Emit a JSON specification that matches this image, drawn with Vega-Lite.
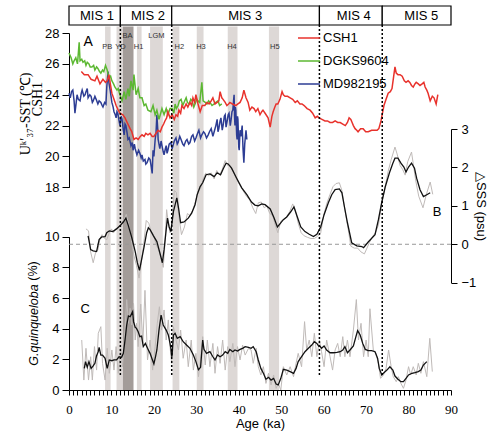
{
"$schema": "https://vega.github.io/schema/vega-lite/v6.json",
"width": 382, "height": 385,
"autosize": {"type": "none"},
"padding": {"left": 69, "top": 5, "right": 37, "bottom": 42},
"background": "white",
"config": {
 "view": {"stroke": null},
 "axis": {"grid": false, "domainColor": "#000", "tickColor": "#000", "labelColor": "#000", "titleColor": "#000", "labelFont": "Liberation Sans", "titleFont": "Liberation Sans", "titleFontWeight": "normal", "domainWidth": 1, "tickWidth": 1},
 "axisX": {"tickCount": 90, "labelExpr": "datum.value % 10 === 0 ? datum.label : ''", "labelOverlap": false, "labelFlush": false, "tickSize": 5, "labelPadding": 8, "labelFont": "Liberation Serif", "labelFontSize": 13, "titleFontSize": 13, "titleY": 33, "titleBaseline": "middle", "domain": true, "ticks": true},
 "text": {"font": "Liberation Sans"}
},
"datasets": {
 "bands": [
  {"name":"PB","start":8.5,"end":9.8,"tone":"light"},
  {"name":"YD","start":11.2,"end":12.7,"tone":"light"},
  {"name":"BA","start":12.7,"end":15.2,"tone":"dark"},
  {"name":"H1","start":16.0,"end":17.1,"tone":"light"},
  {"name":"LGM","start":19.1,"end":22.1,"tone":"light"},
  {"name":"H2","start":24.4,"end":26.0,"tone":"light"},
  {"name":"H3","start":30.1,"end":31.7,"tone":"light"},
  {"name":"H4","start":37.4,"end":39.7,"tone":"light"},
  {"name":"H5","start":47.1,"end":49.5,"tone":"light"}
 ],
 "bandlabels": [
  {"label":"PB","age":9.0,"row":"low"},
  {"label":"YD","age":12.1,"row":"low"},
  {"label":"BA","age":13.8,"row":"high"},
  {"label":"H1","age":16.4,"row":"low"},
  {"label":"LGM","age":20.6,"row":"high"},
  {"label":"H2","age":26.0,"row":"low"},
  {"label":"H3","age":31.1,"row":"low"},
  {"label":"H4","age":38.4,"row":"low"},
  {"label":"H5","age":48.5,"row":"low"}
 ],
 "mis": [
  {"stage":"MIS 1","start":0,"end":12.1,"labelAge":6.6},
  {"stage":"MIS 2","start":12.1,"end":24.2,"labelAge":18.6},
  {"stage":"MIS 3","start":24.2,"end":59.0,"labelAge":41.5},
  {"stage":"MIS 4","start":59.0,"end":73.8,"labelAge":67.1},
  {"stage":"MIS 5","start":73.8,"end":90,"labelAge":83.0}
 ],
 "bounds": [{"age":12.1},{"age":24.2},{"age":59.0},{"age":73.8}],
 "csh1": [
  {"age":2.9,"v":25.5},{"age":3.6,"v":25.3},{"age":4.5,"v":25.3},{"age":5.2,"v":25.0},{"age":6.1,"v":24.9},{"age":6.6,"v":25.2},{"age":7.3,"v":24.7},{"age":8.0,"v":25.0},{"age":8.6,"v":24.8},{"age":9.0,"v":24.9},{"age":9.4,"v":25.3},{"age":9.8,"v":24.6},{"age":10.1,"v":24.1},{"age":10.6,"v":23.7},{"age":11.1,"v":23.3},{"age":11.6,"v":23.0},{"age":12.0,"v":22.8},{"age":12.7,"v":22.7},{"age":13.2,"v":22.5},{"age":13.7,"v":22.2},{"age":14.4,"v":21.8},{"age":14.8,"v":21.6},{"age":15.3,"v":21.1},{"age":15.8,"v":21.2},{"age":16.3,"v":21.1},{"age":16.8,"v":21.3},{"age":17.2,"v":21.4},{"age":17.7,"v":21.3},{"age":18.1,"v":21.5},{"age":18.6,"v":21.4},{"age":19.1,"v":21.5},{"age":19.6,"v":21.3},{"age":20.0,"v":21.3},{"age":20.5,"v":21.5},{"age":21.0,"v":21.7},{"age":21.5,"v":21.6},{"age":21.9,"v":21.9},{"age":22.3,"v":22.1},{"age":22.6,"v":22.3},{"age":23.0,"v":22.5},{"age":23.3,"v":22.9},{"age":23.8,"v":22.5},{"age":24.3,"v":22.7},{"age":24.8,"v":22.4},{"age":25.2,"v":22.7},{"age":25.6,"v":22.6},{"age":25.9,"v":23.0},{"age":26.3,"v":22.8},{"age":26.6,"v":23.3},{"age":27.1,"v":23.1},{"age":27.6,"v":23.4},{"age":28.0,"v":23.2},{"age":28.5,"v":23.5},{"age":28.9,"v":23.3},{"age":29.2,"v":23.8},{"age":29.6,"v":23.5},{"age":29.9,"v":24.0},{"age":30.4,"v":23.4},{"age":30.9,"v":22.9},{"age":31.4,"v":23.3},{"age":32.0,"v":23.3},{"age":32.5,"v":23.5},{"age":33.0,"v":23.4},{"age":33.5,"v":23.6},{"age":33.9,"v":23.8},{"age":34.4,"v":23.4},{"age":34.9,"v":23.5},{"age":35.3,"v":23.6},{"age":35.6,"v":24.2},{"age":36.0,"v":23.8},{"age":36.3,"v":23.7},{"age":36.8,"v":23.5},{"age":37.2,"v":23.3},{"age":37.6,"v":23.4},{"age":37.9,"v":23.5},{"age":38.5,"v":23.4},{"age":39.3,"v":23.3},{"age":39.8,"v":23.4},{"age":40.3,"v":23.5},{"age":40.8,"v":23.8},{"age":41.2,"v":24.3},{"age":41.7,"v":23.8},{"age":42.2,"v":23.5},{"age":42.6,"v":23.0},{"age":43.1,"v":23.2},{"age":43.6,"v":23.1},{"age":44.0,"v":22.9},{"age":44.5,"v":23.1},{"age":45.0,"v":22.7},{"age":45.4,"v":22.9},{"age":45.7,"v":23.0},{"age":46.2,"v":22.8},{"age":46.9,"v":22.5},{"age":47.4,"v":21.9},{"age":47.8,"v":22.6},{"age":48.1,"v":22.9},{"age":48.5,"v":23.2},{"age":48.8,"v":23.4},{"age":49.2,"v":23.4},{"age":49.7,"v":23.7},{"age":50.2,"v":24.2},{"age":50.5,"v":24.0},{"age":50.9,"v":23.9},{"age":51.5,"v":23.9},{"age":52.1,"v":23.8},{"age":52.7,"v":23.7},{"age":53.3,"v":23.5},{"age":53.8,"v":23.6},{"age":54.4,"v":23.4},{"age":54.9,"v":23.4},{"age":55.4,"v":23.3},{"age":56.1,"v":23.1},{"age":56.8,"v":23.0},{"age":57.4,"v":22.8},{"age":58.0,"v":22.5},{"age":58.5,"v":22.6},{"age":58.9,"v":22.5},{"age":59.6,"v":22.4},{"age":60.3,"v":22.3},{"age":60.9,"v":22.3},{"age":61.5,"v":22.2},{"age":62.1,"v":22.2},{"age":62.7,"v":22.3},{"age":63.3,"v":22.2},{"age":63.9,"v":22.2},{"age":64.5,"v":22.1},{"age":65.1,"v":22.0},{"age":65.6,"v":22.2},{"age":66.0,"v":22.5},{"age":66.4,"v":22.4},{"age":66.7,"v":22.2},{"age":67.0,"v":22.0},{"age":67.4,"v":21.8},{"age":67.8,"v":21.7},{"age":68.1,"v":21.6},{"age":68.7,"v":21.8},{"age":69.3,"v":21.8},{"age":69.9,"v":21.6},{"age":70.5,"v":21.6},{"age":71.3,"v":21.7},{"age":72.1,"v":21.7},{"age":72.6,"v":21.7},{"age":73.0,"v":21.8},{"age":73.5,"v":22.3},{"age":74.2,"v":23.3},{"age":74.7,"v":23.7},{"age":75.2,"v":24.1},{"age":75.7,"v":24.2},{"age":76.1,"v":24.4},{"age":76.5,"v":25.2},{"age":76.8,"v":25.8},{"age":77.1,"v":25.4},{"age":77.5,"v":25.3},{"age":78.0,"v":25.3},{"age":78.5,"v":25.2},{"age":79.0,"v":24.9},{"age":79.4,"v":24.8},{"age":79.9,"v":24.9},{"age":80.3,"v":24.8},{"age":80.7,"v":24.6},{"age":81.1,"v":24.5},{"age":81.5,"v":24.7},{"age":81.8,"v":24.8},{"age":82.3,"v":24.7},{"age":82.7,"v":24.6},{"age":83.2,"v":24.7},{"age":83.6,"v":24.8},{"age":83.9,"v":24.5},{"age":84.3,"v":24.3},{"age":84.6,"v":24.1},{"age":85.1,"v":23.6},{"age":85.6,"v":23.9},{"age":86.0,"v":23.8},{"age":86.5,"v":23.4},{"age":86.9,"v":24.0}
 ],
 "dgks": [
  {"age":0.0,"v":26.7},{"age":0.5,"v":26.4},{"age":0.9,"v":26.0},{"age":1.2,"v":26.2},{"age":1.6,"v":26.4},{"age":2.0,"v":26.0},{"age":2.4,"v":27.4},{"age":2.6,"v":26.2},{"age":3.0,"v":26.3},{"age":3.3,"v":26.1},{"age":3.7,"v":26.2},{"age":4.0,"v":25.9},{"age":4.3,"v":26.1},{"age":4.7,"v":26.0},{"age":5.0,"v":25.8},{"age":5.4,"v":25.8},{"age":5.8,"v":25.9},{"age":6.1,"v":25.6},{"age":6.5,"v":25.8},{"age":6.8,"v":25.7},{"age":7.2,"v":25.5},{"age":7.5,"v":25.4},{"age":7.9,"v":25.6},{"age":8.2,"v":25.5},{"age":8.6,"v":25.9},{"age":9.0,"v":25.6},{"age":9.4,"v":25.1},{"age":9.8,"v":25.2},{"age":10.1,"v":24.9},{"age":10.5,"v":24.7},{"age":10.8,"v":24.5},{"age":11.3,"v":24.3},{"age":11.6,"v":24.4},{"age":12.0,"v":24.0},{"age":12.5,"v":23.6},{"age":13.0,"v":24.2},{"age":13.4,"v":23.7},{"age":13.9,"v":24.4},{"age":14.2,"v":23.9},{"age":14.6,"v":24.9},{"age":15.1,"v":24.3},{"age":15.3,"v":25.3},{"age":15.8,"v":24.0},{"age":16.3,"v":24.4},{"age":16.7,"v":23.8},{"age":17.2,"v":23.8},{"age":17.7,"v":23.3},{"age":18.1,"v":23.4},{"age":18.6,"v":23.0},{"age":19.3,"v":22.9},{"age":19.8,"v":23.3},{"age":20.3,"v":22.7},{"age":20.7,"v":23.0},{"age":21.2,"v":22.4},{"age":21.6,"v":22.8},{"age":21.9,"v":23.1},{"age":22.4,"v":22.7},{"age":22.9,"v":23.1},{"age":23.3,"v":22.7},{"age":23.8,"v":23.1},{"age":24.3,"v":23.1},{"age":24.7,"v":22.8},{"age":25.0,"v":23.4},{"age":25.3,"v":23.1},{"age":25.7,"v":23.3},{"age":26.0,"v":23.6},{"age":26.4,"v":23.7},{"age":26.8,"v":23.3},{"age":27.1,"v":23.5},{"age":27.6,"v":23.8},{"age":27.9,"v":23.5},{"age":28.3,"v":23.4},{"age":28.7,"v":23.7},{"age":29.0,"v":23.6},{"age":29.4,"v":23.2},{"age":29.7,"v":23.4},{"age":30.1,"v":23.7},{"age":30.4,"v":23.6},{"age":30.8,"v":23.5},{"age":31.3,"v":24.8},{"age":31.6,"v":23.6},{"age":32.1,"v":23.5},{"age":32.5,"v":23.4},{"age":32.9,"v":23.6},{"age":33.2,"v":23.5},{"age":33.7,"v":23.3},{"age":34.2,"v":23.4},{"age":34.6,"v":23.5},{"age":35.1,"v":23.6},{"age":35.5,"v":23.3},{"age":36.0,"v":23.4}
 ],
 "md": [
  {"age":0.0,"v":24.1},{"age":0.3,"v":23.8},{"age":0.6,"v":24.2},{"age":0.9,"v":24.3},{"age":1.2,"v":23.6},{"age":1.4,"v":22.8},{"age":1.7,"v":23.5},{"age":1.9,"v":24.0},{"age":2.2,"v":23.7},{"age":2.6,"v":23.6},{"age":2.9,"v":24.1},{"age":3.1,"v":24.3},{"age":3.5,"v":23.9},{"age":3.8,"v":24.0},{"age":4.0,"v":24.2},{"age":4.3,"v":24.4},{"age":4.5,"v":23.8},{"age":4.9,"v":24.0},{"age":5.2,"v":23.9},{"age":5.5,"v":23.5},{"age":5.7,"v":23.6},{"age":6.1,"v":23.9},{"age":6.4,"v":23.7},{"age":6.8,"v":23.4},{"age":7.1,"v":23.6},{"age":7.5,"v":23.5},{"age":7.8,"v":23.3},{"age":8.0,"v":23.2},{"age":8.4,"v":23.5},{"age":8.7,"v":23.4},{"age":8.9,"v":24.5},{"age":9.2,"v":25.5},{"age":9.4,"v":24.8},{"age":9.7,"v":24.3},{"age":10.1,"v":23.5},{"age":10.4,"v":23.2},{"age":10.6,"v":22.9},{"age":10.9,"v":22.7},{"age":11.1,"v":22.5},{"age":11.3,"v":22.9},{"age":11.5,"v":22.8},{"age":11.8,"v":22.3},{"age":12.0,"v":22.0},{"age":12.3,"v":22.6},{"age":12.5,"v":22.4},{"age":12.8,"v":21.7},{"age":13.0,"v":21.4},{"age":13.2,"v":22.1},{"age":13.4,"v":22.0},{"age":13.7,"v":21.5},{"age":13.9,"v":21.1},{"age":14.2,"v":21.2},{"age":14.6,"v":20.7},{"age":14.9,"v":20.9},{"age":15.1,"v":20.4},{"age":15.4,"v":20.8},{"age":15.6,"v":20.5},{"age":15.8,"v":20.3},{"age":16.0,"v":20.1},{"age":16.4,"v":20.4},{"age":16.7,"v":20.2},{"age":17.0,"v":19.9},{"age":17.2,"v":20.1},{"age":17.5,"v":19.7},{"age":17.9,"v":19.8},{"age":18.1,"v":19.5},{"age":18.4,"v":19.6},{"age":18.8,"v":19.9},{"age":19.1,"v":19.8},{"age":19.4,"v":19.3},{"age":19.6,"v":18.9},{"age":19.8,"v":20.4},{"age":20.0,"v":20.0},{"age":20.3,"v":21.1},{"age":20.5,"v":21.5},{"age":20.7,"v":22.7},{"age":20.9,"v":21.8},{"age":21.0,"v":21.1},{"age":21.2,"v":20.8},{"age":21.4,"v":20.5},{"age":21.7,"v":21.0},{"age":21.9,"v":20.7},{"age":22.2,"v":20.3},{"age":22.4,"v":20.1},{"age":22.7,"v":20.5},{"age":22.9,"v":20.7},{"age":23.1,"v":20.2},{"age":23.3,"v":20.4},{"age":23.6,"v":20.8},{"age":24.0,"v":20.9},{"age":24.3,"v":20.5},{"age":24.5,"v":20.7},{"age":24.8,"v":21.0},{"age":25.2,"v":21.2},{"age":25.5,"v":20.8},{"age":25.7,"v":20.9},{"age":26.1,"v":21.3},{"age":26.4,"v":21.1},{"age":26.8,"v":20.8},{"age":27.1,"v":20.7},{"age":27.5,"v":21.0},{"age":27.8,"v":21.1},{"age":28.2,"v":20.8},{"age":28.5,"v":20.9},{"age":28.9,"v":21.3},{"age":29.2,"v":21.4},{"age":29.6,"v":21.0},{"age":29.9,"v":21.2},{"age":30.3,"v":21.5},{"age":30.6,"v":21.7},{"age":31.0,"v":21.2},{"age":31.3,"v":21.4},{"age":31.7,"v":21.6},{"age":32.0,"v":21.5},{"age":32.4,"v":21.2},{"age":32.8,"v":21.4},{"age":33.1,"v":21.6},{"age":33.5,"v":21.8},{"age":33.9,"v":21.3},{"age":34.2,"v":21.6},{"age":34.6,"v":22.0},{"age":34.9,"v":22.4},{"age":35.1,"v":21.6},{"age":35.3,"v":21.8},{"age":35.6,"v":22.3},{"age":35.8,"v":22.5},{"age":36.1,"v":21.7},{"age":36.3,"v":22.0},{"age":36.6,"v":22.6},{"age":36.8,"v":22.7},{"age":37.0,"v":21.9},{"age":37.2,"v":22.2},{"age":37.5,"v":22.7},{"age":37.7,"v":22.8},{"age":38.0,"v":22.0},{"age":38.2,"v":22.4},{"age":38.4,"v":22.9},{"age":38.6,"v":23.0},{"age":38.8,"v":23.7},{"age":38.9,"v":24.0},{"age":39.0,"v":22.6},{"age":39.1,"v":22.0},{"age":39.2,"v":23.2},{"age":39.3,"v":23.0},{"age":39.5,"v":21.4},{"age":39.6,"v":21.1},{"age":39.7,"v":22.6},{"age":39.8,"v":22.4},{"age":40.0,"v":20.6},{"age":40.1,"v":20.4},{"age":40.3,"v":21.7},{"age":40.5,"v":21.3},{"age":40.8,"v":22.0},{"age":41.0,"v":20.5},{"age":41.2,"v":19.6},{"age":41.4,"v":20.8},{"age":41.7,"v":21.7},{"age":41.9,"v":21.1}
 ],
 "sssraw": [
  {"age":4.0,"v":0.40},{"age":4.6,"v":0.35},{"age":5.1,"v":-0.2},{"age":5.7,"v":-0.48},{"age":6.3,"v":-0.2},{"age":6.8,"v":-0.15},{"age":7.3,"v":0.15},{"age":7.8,"v":0.25},{"age":8.4,"v":0.15},{"age":8.9,"v":0.12},{"age":9.5,"v":0.30},{"age":10.0,"v":0.40},{"age":10.5,"v":0.30},{"age":11.2,"v":0.42},{"age":11.8,"v":0.45},{"age":12.4,"v":0.55},{"age":13.0,"v":0.65},{"age":13.5,"v":0.78},{"age":14.1,"v":0.50},{"age":14.7,"v":0.10},{"age":15.3,"v":-0.30},{"age":15.9,"v":-0.55},{"age":16.5,"v":-0.88},{"age":17.0,"v":-0.50},{"age":17.6,"v":0.0},{"age":18.2,"v":0.62},{"age":18.8,"v":0.55},{"age":19.3,"v":0.35},{"age":19.9,"v":0.25},{"age":20.5,"v":0.0},{"age":21.1,"v":-0.15},{"age":21.7,"v":-0.35},{"age":22.2,"v":-0.60},{"age":22.6,"v":0.0},{"age":23.0,"v":0.90},{"age":23.4,"v":0.55},{"age":23.8,"v":0.30},{"age":24.3,"v":0.55},{"age":24.8,"v":1.40},{"age":25.3,"v":1.35},{"age":25.8,"v":0.80},{"age":26.5,"v":0.25},{"age":27.2,"v":0.45},{"age":27.9,"v":0.80},{"age":28.5,"v":0.75},{"age":29.2,"v":0.90},{"age":29.9,"v":1.15},{"age":30.4,"v":1.38},{"age":31.0,"v":1.45},{"age":31.6,"v":1.70},{"age":32.2,"v":1.85},{"age":32.9,"v":1.78},{"age":33.5,"v":1.86},{"age":34.2,"v":1.70},{"age":34.8,"v":1.92},{"age":35.5,"v":1.80},{"age":36.1,"v":1.95},{"age":36.8,"v":2.18},{"age":37.4,"v":2.05},{"age":38.0,"v":2.05},{"age":38.7,"v":1.90},{"age":39.4,"v":1.70},{"age":40.2,"v":1.55},{"age":41.0,"v":1.40},{"age":41.8,"v":1.25},{"age":42.6,"v":1.15},{"age":43.3,"v":0.95},{"age":44.0,"v":0.80},{"age":44.6,"v":1.08},{"age":45.3,"v":1.10},{"age":46.0,"v":0.95},{"age":46.6,"v":1.00},{"age":47.3,"v":0.80},{"age":48.0,"v":0.75},{"age":48.6,"v":0.50},{"age":49.2,"v":0.30},{"age":49.9,"v":0.60},{"age":50.6,"v":0.65},{"age":51.3,"v":0.72},{"age":52.0,"v":0.85},{"age":52.7,"v":1.05},{"age":53.3,"v":0.90},{"age":54.0,"v":0.55},{"age":54.7,"v":0.30},{"age":55.4,"v":0.22},{"age":56.2,"v":0.18},{"age":57.0,"v":0.15},{"age":57.8,"v":0.15},{"age":58.5,"v":0.20},{"age":59.3,"v":0.30},{"age":60.0,"v":0.75},{"age":60.7,"v":1.05},{"age":61.5,"v":1.30},{"age":62.2,"v":1.50},{"age":62.9,"v":1.58},{"age":63.7,"v":1.60},{"age":64.3,"v":1.40},{"age":65.0,"v":0.90},{"age":65.7,"v":0.45},{"age":66.4,"v":-0.05},{"age":67.2,"v":-0.10},{"age":68.0,"v":-0.10},{"age":68.8,"v":-0.20},{"age":69.6,"v":-0.25},{"age":70.2,"v":-0.10},{"age":70.8,"v":0.05},{"age":71.5,"v":0.20},{"age":72.2,"v":0.30},{"age":72.9,"v":0.50},{"age":73.6,"v":1.00},{"age":74.4,"v":1.45},{"age":75.2,"v":1.90},{"age":75.9,"v":2.20},{"age":76.8,"v":2.53},{"age":77.3,"v":2.35},{"age":78.0,"v":2.05},{"age":78.6,"v":1.95},{"age":79.2,"v":1.80},{"age":79.8,"v":2.15},{"age":80.7,"v":2.40},{"age":81.1,"v":2.10},{"age":81.7,"v":1.65},{"age":82.4,"v":1.25},{"age":83.4,"v":0.95},{"age":84.2,"v":1.30},{"age":85.1,"v":1.62},{"age":85.7,"v":1.30}
 ],
 "ssssmooth": [
  {"age":4.5,"v":0.22},{"age":5.1,"v":-0.14},{"age":5.7,"v":-0.17},{"age":6.5,"v":-0.19},{"age":7.1,"v":0.12},{"age":7.7,"v":0.19},{"age":8.5,"v":0.20},{"age":8.9,"v":0.30},{"age":9.5,"v":0.35},{"age":10.3,"v":0.33},{"age":11.2,"v":0.40},{"age":12.0,"v":0.48},{"age":12.8,"v":0.58},{"age":13.4,"v":0.68},{"age":14.0,"v":0.48},{"age":14.8,"v":0.17},{"age":15.6,"v":-0.19},{"age":16.1,"v":-0.48},{"age":16.6,"v":-0.68},{"age":17.1,"v":-0.40},{"age":17.7,"v":-0.06},{"age":18.3,"v":0.30},{"age":18.7,"v":0.43},{"age":19.1,"v":0.38},{"age":19.9,"v":0.22},{"age":20.7,"v":0.07},{"age":21.4,"v":-0.22},{"age":22.0,"v":-0.48},{"age":22.4,"v":-0.14},{"age":22.9,"v":0.38},{"age":23.2,"v":0.68},{"age":23.6,"v":0.45},{"age":24.0,"v":0.33},{"age":24.6,"v":0.85},{"age":25.4,"v":1.21},{"age":25.8,"v":0.95},{"age":26.3,"v":0.56},{"age":27.1,"v":0.58},{"age":28.1,"v":0.68},{"age":28.9,"v":0.81},{"age":29.7,"v":1.03},{"age":30.2,"v":1.29},{"age":30.9,"v":1.5},{"age":31.5,"v":1.6},{"age":32.3,"v":1.81},{"age":33.2,"v":1.83},{"age":34.2,"v":1.76},{"age":34.9,"v":1.86},{"age":35.7,"v":1.81},{"age":36.4,"v":1.98},{"age":37.0,"v":2.11},{"age":37.5,"v":2.09},{"age":38.3,"v":1.98},{"age":39.5,"v":1.72},{"age":40.7,"v":1.47},{"age":41.9,"v":1.29},{"age":43.0,"v":1.1},{"age":43.8,"v":1.02},{"age":44.6,"v":1.0},{"age":45.4,"v":1.05},{"age":46.2,"v":1.03},{"age":47.4,"v":0.92},{"age":48.3,"v":0.69},{"age":49.1,"v":0.45},{"age":49.7,"v":0.53},{"age":50.5,"v":0.64},{"age":51.3,"v":0.71},{"age":52.2,"v":0.84},{"age":53.0,"v":0.97},{"age":53.8,"v":0.71},{"age":54.6,"v":0.45},{"age":55.6,"v":0.33},{"age":56.6,"v":0.26},{"age":57.6,"v":0.2},{"age":58.4,"v":0.26},{"age":59.3,"v":0.45},{"age":60.1,"v":0.77},{"age":61.1,"v":1.08},{"age":61.9,"v":1.29},{"age":62.7,"v":1.42},{"age":63.7,"v":1.44},{"age":64.3,"v":1.34},{"age":64.9,"v":0.97},{"age":65.6,"v":0.56},{"age":66.6,"v":0.04},{"age":67.8,"v":-0.04},{"age":69.0,"v":-0.06},{"age":69.4,"v":-0.09},{"age":70.5,"v":0.06},{"age":72.1,"v":0.25},{"age":72.9,"v":0.64},{"age":73.7,"v":1.1},{"age":74.5,"v":1.49},{"age":75.5,"v":1.86},{"age":76.3,"v":2.11},{"age":76.8,"v":2.24},{"age":77.5,"v":2.24},{"age":78.2,"v":2.11},{"age":78.9,"v":2.01},{"age":79.4,"v":1.88},{"age":80.0,"v":2.01},{"age":80.7,"v":2.11},{"age":81.4,"v":1.98},{"age":81.9,"v":1.72},{"age":82.7,"v":1.42},{"age":83.5,"v":1.24},{"age":84.3,"v":1.29},{"age":85.1,"v":1.34}
 ],
 "gqraw": [
  {"age":3.0,"v":3.26},{"age":3.5,"v":0.65},{"age":4.0,"v":2.72},{"age":4.6,"v":0.65},{"age":5.1,"v":2.17},{"age":5.5,"v":0.65},{"age":6.0,"v":2.83},{"age":6.5,"v":1.30},{"age":6.9,"v":3.7},{"age":7.5,"v":4.13},{"age":7.9,"v":1.74},{"age":8.5,"v":0.65},{"age":9.0,"v":2.72},{"age":9.5,"v":1.09},{"age":10.1,"v":2.61},{"age":10.6,"v":1.30},{"age":11.1,"v":2.83},{"age":11.6,"v":1.09},{"age":12.2,"v":2.72},{"age":12.6,"v":1.52},{"age":13.2,"v":3.91},{"age":13.6,"v":5.9},{"age":14.0,"v":4.35},{"age":14.4,"v":5.33},{"age":14.8,"v":4.24},{"age":15.2,"v":5.65},{"age":15.6,"v":3.26},{"age":15.9,"v":4.35},{"age":16.3,"v":2.83},{"age":16.9,"v":5.6},{"age":17.4,"v":3.04},{"age":17.9,"v":6.5},{"age":18.5,"v":1.96},{"age":19.1,"v":3.26},{"age":19.7,"v":1.30},{"age":20.3,"v":2.83},{"age":20.8,"v":4.35},{"age":21.3,"v":5.43},{"age":21.8,"v":3.91},{"age":22.4,"v":5.22},{"age":22.9,"v":3.26},{"age":23.4,"v":4.57},{"age":23.8,"v":2.83},{"age":24.2,"v":1.74},{"age":24.6,"v":4.13},{"age":25.2,"v":3.26},{"age":25.8,"v":2.61},{"age":26.3,"v":3.91},{"age":26.9,"v":2.07},{"age":27.6,"v":3.26},{"age":28.1,"v":1.52},{"age":28.8,"v":3.26},{"age":29.3,"v":1.30},{"age":29.9,"v":2.39},{"age":30.5,"v":0.87},{"age":31.0,"v":1.96},{"age":31.5,"v":3.48},{"age":32.1,"v":1.63},{"age":32.6,"v":3.26},{"age":33.2,"v":1.52},{"age":33.9,"v":3.04},{"age":34.4,"v":1.09},{"age":35.0,"v":2.83},{"age":35.6,"v":1.74},{"age":36.2,"v":3.26},{"age":36.8,"v":1.30},{"age":37.4,"v":2.83},{"age":37.9,"v":1.85},{"age":38.6,"v":3.04},{"age":39.1,"v":1.52},{"age":39.7,"v":2.83},{"age":40.3,"v":1.96},{"age":40.9,"v":2.93},{"age":41.5,"v":2.28},{"age":42.3,"v":2.72},{"age":42.9,"v":2.61},{"age":43.4,"v":1.74},{"age":44.1,"v":2.72},{"age":44.6,"v":1.52},{"age":45.2,"v":0.98},{"age":45.8,"v":1.52},{"age":46.4,"v":0.43},{"age":47.0,"v":1.09},{"age":47.6,"v":0.33},{"age":48.2,"v":0.98},{"age":48.8,"v":0.11},{"age":49.3,"v":0.43},{"age":49.9,"v":0.0},{"age":50.5,"v":1.52},{"age":51.3,"v":0.98},{"age":52.1,"v":1.52},{"age":52.9,"v":0.87},{"age":53.5,"v":1.74},{"age":54.0,"v":2.39},{"age":54.8,"v":1.52},{"age":55.5,"v":4.46},{"age":56.0,"v":2.61},{"age":56.6,"v":3.26},{"age":57.2,"v":2.17},{"age":57.8,"v":3.70},{"age":58.4,"v":2.17},{"age":59.0,"v":3.26},{"age":59.5,"v":2.5},{"age":60.1,"v":1.52},{"age":60.7,"v":3.26},{"age":61.5,"v":2.17},{"age":62.1,"v":1.30},{"age":62.7,"v":2.61},{"age":63.3,"v":3.04},{"age":63.9,"v":2.17},{"age":64.5,"v":3.48},{"age":65.0,"v":2.17},{"age":65.6,"v":3.26},{"age":66.2,"v":2.17},{"age":67.0,"v":3.91},{"age":67.7,"v":5.9},{"age":68.2,"v":3.26},{"age":68.8,"v":4.35},{"age":69.4,"v":2.17},{"age":70.0,"v":3.26},{"age":70.5,"v":2.17},{"age":70.9,"v":5.3},{"age":71.7,"v":2.61},{"age":72.3,"v":2.39},{"age":72.9,"v":1.74},{"age":73.4,"v":0.76},{"age":74.1,"v":0.98},{"age":74.7,"v":1.41},{"age":75.3,"v":2.61},{"age":75.9,"v":1.52},{"age":76.4,"v":0.87},{"age":77.1,"v":0.54},{"age":77.6,"v":0.87},{"age":78.2,"v":0.43},{"age":78.8,"v":0.11},{"age":79.4,"v":0.65},{"age":80.0,"v":1.52},{"age":80.5,"v":0.98},{"age":81.1,"v":1.52},{"age":81.8,"v":0.98},{"age":82.3,"v":1.74},{"age":82.9,"v":1.09},{"age":83.5,"v":1.85},{"age":84.3,"v":0.87},{"age":85.0,"v":3.37},{"age":85.6,"v":1.2}
 ],
 "gqsmooth": [
  {"age":3.6,"v":1.41},{"age":3.9,"v":1.85},{"age":4.3,"v":1.48},{"age":4.7,"v":1.85},{"age":5.2,"v":1.41},{"age":5.7,"v":1.57},{"age":6.1,"v":1.74},{"age":6.5,"v":2.24},{"age":6.9,"v":2.5},{"age":7.1,"v":2.78},{"age":7.5,"v":2.28},{"age":7.9,"v":2.28},{"age":8.5,"v":2.07},{"age":9.0,"v":1.41},{"age":9.5,"v":1.96},{"age":10.1,"v":1.91},{"age":10.6,"v":1.96},{"age":11.2,"v":1.96},{"age":11.8,"v":2.17},{"age":12.4,"v":2.13},{"age":12.8,"v":2.39},{"age":13.2,"v":3.26},{"age":13.6,"v":4.24},{"age":14.0,"v":4.83},{"age":14.4,"v":4.78},{"age":14.8,"v":5.0},{"age":15.0,"v":5.11},{"age":15.2,"v":4.46},{"age":15.6,"v":4.09},{"age":15.9,"v":4.02},{"age":16.3,"v":3.8},{"age":16.7,"v":3.48},{"age":17.1,"v":3.52},{"age":17.5,"v":2.83},{"age":18.0,"v":3.04},{"age":18.5,"v":2.72},{"age":19.1,"v":2.39},{"age":19.6,"v":2.0},{"age":20.0,"v":1.7},{"age":20.4,"v":2.2},{"age":20.7,"v":2.61},{"age":21.2,"v":3.91},{"age":21.7,"v":4.89},{"age":22.2,"v":4.24},{"age":22.9,"v":3.91},{"age":23.4,"v":3.59},{"age":23.8,"v":3.04},{"age":24.0,"v":2.72},{"age":24.2,"v":2.17},{"age":24.3,"v":2.28},{"age":24.6,"v":3.59},{"age":25.0,"v":3.70},{"age":25.5,"v":3.37},{"age":26.2,"v":3.48},{"age":26.9,"v":3.15},{"age":27.7,"v":2.93},{"age":28.5,"v":2.72},{"age":29.3,"v":2.28},{"age":29.9,"v":1.85},{"age":30.5,"v":1.32},{"age":31.0,"v":1.48},{"age":31.5,"v":3.26},{"age":31.8,"v":2.65},{"age":32.4,"v":2.39},{"age":33.2,"v":2.5},{"age":33.9,"v":2.17},{"age":34.4,"v":1.96},{"age":35.0,"v":2.28},{"age":35.6,"v":2.17},{"age":36.2,"v":2.28},{"age":36.8,"v":2.5},{"age":37.4,"v":2.39},{"age":37.9,"v":2.65},{"age":38.6,"v":2.5},{"age":39.1,"v":2.61},{"age":39.7,"v":2.54},{"age":40.3,"v":2.65},{"age":40.9,"v":2.72},{"age":41.5,"v":2.83},{"age":42.3,"v":2.78},{"age":42.9,"v":2.72},{"age":43.4,"v":2.83},{"age":44.1,"v":2.5},{"age":44.6,"v":1.96},{"age":45.2,"v":1.41},{"age":45.8,"v":1.09},{"age":46.4,"v":0.70},{"age":47.0,"v":0.83},{"age":47.6,"v":0.65},{"age":48.2,"v":0.76},{"age":48.8,"v":0.39},{"age":49.3,"v":0.33},{"age":49.9,"v":0.76},{"age":50.5,"v":1.35},{"age":51.3,"v":1.30},{"age":52.1,"v":1.20},{"age":52.9,"v":1.09},{"age":53.5,"v":1.41},{"age":54.0,"v":1.85},{"age":54.8,"v":2.17},{"age":55.6,"v":2.5},{"age":56.4,"v":2.72},{"age":57.2,"v":2.93},{"age":57.8,"v":3.15},{"age":58.4,"v":3.04},{"age":58.8,"v":2.87},{"age":59.2,"v":2.83},{"age":59.5,"v":2.72},{"age":60.1,"v":2.87},{"age":60.7,"v":2.61},{"age":61.5,"v":2.43},{"age":62.3,"v":2.43},{"age":63.1,"v":2.46},{"age":63.9,"v":2.5},{"age":64.5,"v":2.61},{"age":65.0,"v":2.83},{"age":65.6,"v":2.43},{"age":66.2,"v":2.61},{"age":67.0,"v":2.87},{"age":67.6,"v":3.48},{"age":68.0,"v":3.87},{"age":68.6,"v":3.59},{"age":69.2,"v":3.04},{"age":69.8,"v":2.65},{"age":70.5,"v":2.57},{"age":71.3,"v":2.57},{"age":72.1,"v":2.5},{"age":72.7,"v":2.07},{"age":73.1,"v":1.41},{"age":73.7,"v":0.98},{"age":74.2,"v":1.13},{"age":74.9,"v":1.30},{"age":75.6,"v":1.52},{"age":76.3,"v":1.30},{"age":76.8,"v":0.91},{"age":77.5,"v":0.70},{"age":78.2,"v":0.54},{"age":78.8,"v":0.54},{"age":79.4,"v":0.76},{"age":80.0,"v":0.98},{"age":80.8,"v":1.09},{"age":81.5,"v":1.13},{"age":82.3,"v":1.20},{"age":82.9,"v":1.30},{"age":83.5,"v":1.63},{"age":84.3,"v":1.85}
 ]
},
"layer": [
 {
  "layer": [
   {"data": {"name": "bands"}, "transform": [{"filter": "datum.tone === 'light'"}],
    "mark": {"type": "rect", "color": "#ddd8d6"},
    "encoding": {"x": {"field": "start", "type": "quantitative", "scale": {"domain": [0, 90], "nice": false, "zero": false}, "axis": {"title": "Age (ka)"}}, "x2": {"field": "end"},
     "y": {"datum": 28.42, "type": "quantitative", "scale": {"domain": [18, 28], "range": [182.3, 28], "nice": false, "zero": false}}, "y2": {"datum": 4.86}}},
   {"data": {"name": "bands"}, "transform": [{"filter": "datum.tone === 'dark'"}],
    "mark": {"type": "rect", "color": "#a39c99"},
    "encoding": {"x": {"field": "start", "type": "quantitative", "scale": {"domain": [0, 90], "nice": false, "zero": false}, "axis": {"title": "Age (ka)"}}, "x2": {"field": "end"},
     "y": {"datum": 28.42, "type": "quantitative", "scale": {"domain": [18, 28], "range": [182.3, 28], "nice": false, "zero": false}}, "y2": {"datum": 4.86}}},
   {"data": {"name": "mis"},
    "mark": {"type": "rect", "fill": "white", "stroke": "black", "strokeWidth": 1.2},
    "encoding": {"x": {"field": "start", "type": "quantitative", "scale": {"domain": [0, 90], "nice": false, "zero": false}, "axis": {"title": "Age (ka)"}}, "x2": {"field": "end"},
     "y": {"datum": 29.75, "type": "quantitative", "scale": {"domain": [18, 28], "range": [182.3, 28], "nice": false, "zero": false}}, "y2": {"datum": 28.52}}},
   {"data": {"name": "mis"},
    "mark": {"type": "text", "fontSize": 13, "align": "center", "baseline": "middle", "color": "black"},
    "encoding": {"x": {"field": "labelAge", "type": "quantitative", "scale": {"domain": [0, 90], "nice": false, "zero": false}, "axis": {"title": "Age (ka)"}},
     "y": {"datum": 29.13, "type": "quantitative", "scale": {"domain": [18, 28], "range": [182.3, 28], "nice": false, "zero": false}}, "text": {"field": "stage"}}},
   {"data": {"name": "bandlabels"}, "transform": [{"filter": "datum.row === 'low'"}],
    "mark": {"type": "text", "fontSize": 7.5, "align": "center", "baseline": "middle", "color": "#333"},
    "encoding": {"x": {"field": "age", "type": "quantitative", "scale": {"domain": [0, 90], "nice": false, "zero": false}, "axis": {"title": "Age (ka)"}},
     "y": {"datum": 27.09, "type": "quantitative", "scale": {"domain": [18, 28], "range": [182.3, 28], "nice": false, "zero": false}}, "text": {"field": "label"}}},
   {"data": {"name": "bandlabels"}, "transform": [{"filter": "datum.row === 'high'"}],
    "mark": {"type": "text", "fontSize": 7.5, "align": "center", "baseline": "middle", "color": "#333"},
    "encoding": {"x": {"field": "age", "type": "quantitative", "scale": {"domain": [0, 90], "nice": false, "zero": false}, "axis": {"title": "Age (ka)"}},
     "y": {"datum": 27.81, "type": "quantitative", "scale": {"domain": [18, 28], "range": [182.3, 28], "nice": false, "zero": false}}, "text": {"field": "label"}}},
   {"data": {"name": "md"},
    "mark": {"type": "line", "strokeWidth": 1.5},
    "encoding": {"x": {"field": "age", "type": "quantitative", "scale": {"domain": [0, 90], "nice": false, "zero": false}, "axis": {"title": "Age (ka)"}},
     "y": {"field": "v", "type": "quantitative", "scale": {"domain": [18, 28], "range": [182.3, 28], "nice": false, "zero": false}},
     "color": {"datum": "MD982195", "scale": {"domain": ["CSH1", "DGKS9604", "MD982195"], "range": ["#e8322c", "#5cb832", "#2d3d94"]}}}},
   {"data": {"name": "dgks"},
    "mark": {"type": "line", "strokeWidth": 1.5},
    "encoding": {"x": {"field": "age", "type": "quantitative", "scale": {"domain": [0, 90], "nice": false, "zero": false}, "axis": {"title": "Age (ka)"}},
     "y": {"field": "v", "type": "quantitative", "scale": {"domain": [18, 28], "range": [182.3, 28], "nice": false, "zero": false}},
     "color": {"datum": "DGKS9604", "scale": {"domain": ["CSH1", "DGKS9604", "MD982195"], "range": ["#e8322c", "#5cb832", "#2d3d94"]}}}},
   {"data": {"name": "csh1"},
    "mark": {"type": "line", "strokeWidth": 1.5},
    "encoding": {
     "x": {"field": "age", "type": "quantitative", "scale": {"domain": [0, 90], "nice": false, "zero": false}, "axis": {"title": "Age (ka)"}},
     "y": {"field": "v", "type": "quantitative", "scale": {"domain": [18, 28], "range": [182.3, 28], "nice": false, "zero": false},
      "axis": {"orient": "left", "values": [18,20,22,24,26,28], "tickSize": 7, "labelPadding": 3, "labelFontSize": 13,
       "title": "Uᵏ′₃₇-SST (℃)", "titleFont": "Liberation Serif", "titleFontSize": 14,
       "titleAngle": 270, "titleX": -44, "titleY": 108.5, "titleAlign": "center", "titleBaseline": "middle"}},
     "color": {"datum": "CSH1", "scale": {"domain": ["CSH1", "DGKS9604", "MD982195"], "range": ["#e8322c", "#5cb832", "#2d3d94"]},
      "legend": {"orient": "none", "legendX": 228, "legendY": 21, "title": null, "symbolType": "stroke", "symbolSize": 484, "symbolStrokeWidth": 1.5, "labelFontSize": 13, "labelFont": "Liberation Sans", "labelColor": "#000", "rowPadding": 4, "padding": 0, "labelOffset": 2}}}},
   {"data": {"values": [{}]},
    "mark": {"type": "text", "text": "CSH1", "font": "Liberation Serif", "fontSize": 14, "angle": 270, "align": "center", "baseline": "middle", "color": "black"},
    "encoding": {"x": {"datum": -7.3, "type": "quantitative", "scale": {"domain": [0, 90], "nice": false, "zero": false}, "axis": {"title": "Age (ka)"}},
     "y": {"datum": 23.72, "type": "quantitative", "scale": {"domain": [18, 28], "range": [182.3, 28], "nice": false, "zero": false}}}},
   {"data": {"values": [{}]},
    "mark": {"type": "text", "text": "A", "fontSize": 14, "align": "center", "baseline": "middle", "color": "black"},
    "encoding": {"x": {"datum": 4.5, "type": "quantitative", "scale": {"domain": [0, 90], "nice": false, "zero": false}, "axis": {"title": "Age (ka)"}},
     "y": {"datum": 27.42, "type": "quantitative", "scale": {"domain": [18, 28], "range": [182.3, 28], "nice": false, "zero": false}}}}
  ]
 },
 {
  "layer": [
   {"data": {"values": [{"v": 0}]},
    "mark": {"type": "rule", "color": "#999", "strokeDash": [4, 3], "strokeWidth": 1},
    "encoding": {"y": {"field": "v", "type": "quantitative", "scale": {"domain": [-1, 3], "range": [277.7, 124], "nice": false, "zero": false}}}},
   {"data": {"name": "sssraw"},
    "mark": {"type": "line", "color": "#bfbab8", "strokeWidth": 1},
    "encoding": {"x": {"field": "age", "type": "quantitative", "scale": {"domain": [0, 90], "nice": false, "zero": false}, "axis": {"title": "Age (ka)"}},
     "y": {"field": "v", "type": "quantitative", "scale": {"domain": [-1, 3], "range": [277.7, 124], "nice": false, "zero": false}}}},
   {"data": {"name": "ssssmooth"},
    "mark": {"type": "line", "color": "#111", "strokeWidth": 1.3},
    "encoding": {"x": {"field": "age", "type": "quantitative", "scale": {"domain": [0, 90], "nice": false, "zero": false}, "axis": {"title": "Age (ka)"}},
     "y": {"field": "v", "type": "quantitative", "scale": {"domain": [-1, 3], "range": [277.7, 124], "nice": false, "zero": false},
      "axis": {"orient": "right", "values": [-1,0,1,2,3], "format": "d", "tickSize": 6, "labelPadding": 4, "labelFontSize": 13,
       "title": "△SSS (psu)", "titleFontSize": 13, "titleAngle": 90, "titleX": 29, "titleY": 201, "titleAlign": "center", "titleBaseline": "middle"}}}},
   {"data": {"values": [{}]},
    "mark": {"type": "text", "text": "B", "fontSize": 13, "align": "center", "baseline": "middle", "color": "black"},
    "encoding": {"x": {"datum": 86.7, "type": "quantitative", "scale": {"domain": [0, 90], "nice": false, "zero": false}, "axis": {"title": "Age (ka)"}},
     "y": {"datum": 0.84, "type": "quantitative", "scale": {"domain": [-1, 3], "range": [277.7, 124], "nice": false, "zero": false}}}}
  ]
 },
 {
  "layer": [
   {"data": {"name": "gqraw"},
    "mark": {"type": "line", "color": "#bfbab8", "strokeWidth": 1},
    "encoding": {"x": {"field": "age", "type": "quantitative", "scale": {"domain": [0, 90], "nice": false, "zero": false}, "axis": {"title": "Age (ka)"}},
     "y": {"field": "v", "type": "quantitative", "scale": {"domain": [0, 10], "range": [385, 231.7], "nice": false, "zero": false}}}},
   {"data": {"name": "gqsmooth"},
    "mark": {"type": "line", "color": "#111", "strokeWidth": 1.3},
    "encoding": {"x": {"field": "age", "type": "quantitative", "scale": {"domain": [0, 90], "nice": false, "zero": false}, "axis": {"title": "Age (ka)"}},
     "y": {"field": "v", "type": "quantitative", "scale": {"domain": [0, 10], "range": [385, 231.7], "nice": false, "zero": false},
      "axis": {"orient": "left", "values": [0,2,4,6,8,10], "tickSize": 7, "labelPadding": 3, "labelFontSize": 13,
       "title": "G.quinqueloba", "titleFontStyle": "italic", "titleFontSize": 12.5, "titleAngle": 270, "titleX": -36, "titleY": 319.5, "titleAlign": "center", "titleBaseline": "middle"}}}},
   {"data": {"values": [{}]},
    "mark": {"type": "text", "text": "(%)", "fontSize": 12.5, "angle": 270, "align": "center", "baseline": "middle", "color": "black"},
    "encoding": {"x": {"datum": -8.5, "type": "quantitative", "scale": {"domain": [0, 90], "nice": false, "zero": false}, "axis": {"title": "Age (ka)"}},
     "y": {"datum": 7.76, "type": "quantitative", "scale": {"domain": [0, 10], "range": [385, 231.7], "nice": false, "zero": false}}}},
   {"data": {"values": [{}]},
    "mark": {"type": "text", "text": "C", "fontSize": 13, "align": "center", "baseline": "middle", "color": "black"},
    "encoding": {"x": {"datum": 3.8, "type": "quantitative", "scale": {"domain": [0, 90], "nice": false, "zero": false}, "axis": {"title": "Age (ka)"}},
     "y": {"datum": 5.3, "type": "quantitative", "scale": {"domain": [0, 10], "range": [385, 231.7], "nice": false, "zero": false}}}},
   {"data": {"name": "bounds"},
    "mark": {"type": "rule", "color": "black", "strokeDash": [2, 2], "strokeWidth": 1.5},
    "encoding": {"x": {"field": "age", "type": "quantitative", "scale": {"domain": [0, 90], "nice": false, "zero": false}, "axis": {"title": "Age (ka)"}},
     "y": {"datum": 23.81, "type": "quantitative", "scale": {"domain": [0, 10], "range": [385, 231.7], "nice": false, "zero": false}}, "y2": {"datum": 0.85}}}
  ]
 }
],
"resolve": {"scale": {"y": "independent"}}
}
